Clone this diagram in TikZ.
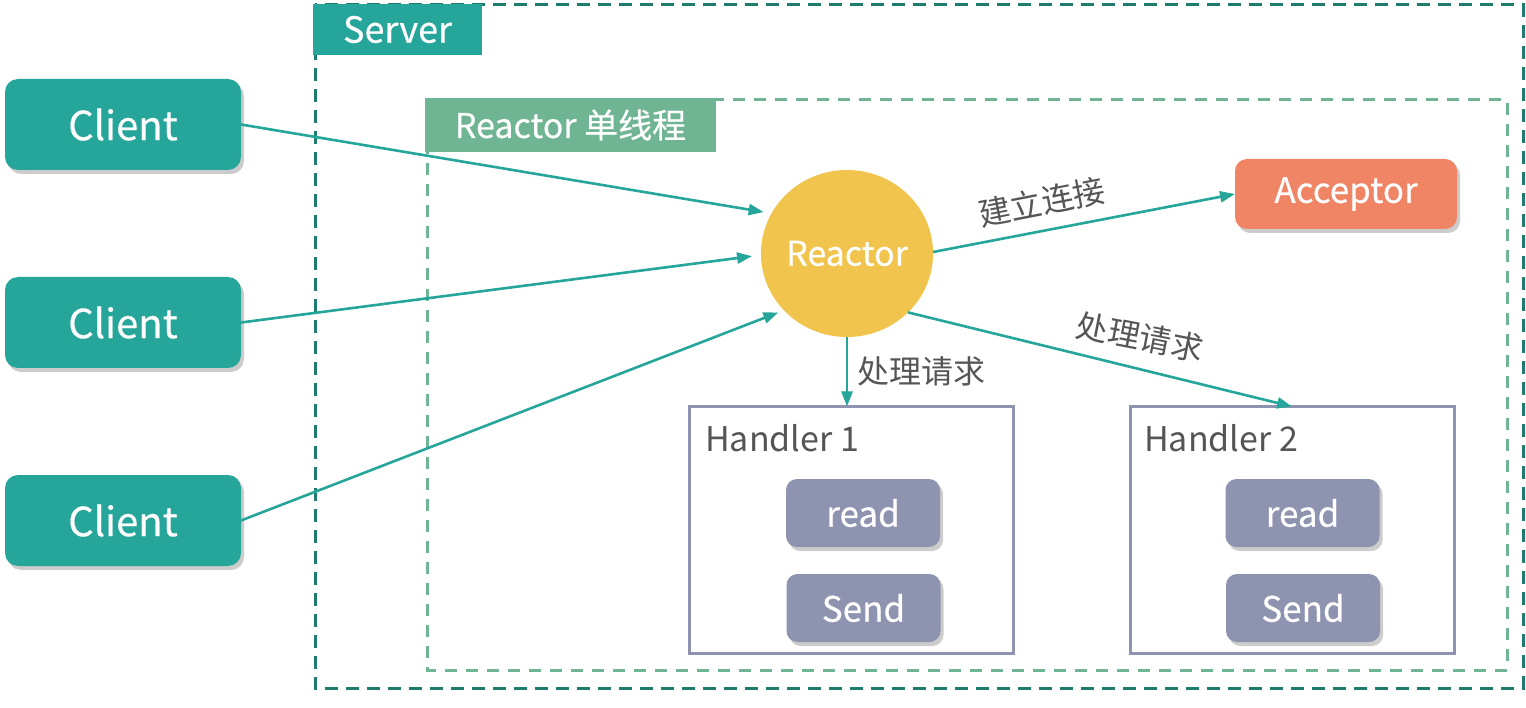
\documentclass[tikz,border=0pt]{standalone}
\usepackage{fontspec}
\setmainfont{Noto Sans CJK SC}
\newfontfamily\medfont[FakeBold=0.4]{Noto Sans CJK SC}
\usetikzlibrary{arrows.meta,shapes.geometric,shadows}
\definecolor{tealc}{HTML}{26A69A}
\definecolor{serverc}{HTML}{1E7B6E}
\definecolor{greenl}{HTML}{70B593}
\definecolor{yellowc}{HTML}{F1C44D}
\definecolor{orangec}{HTML}{F08566}
\definecolor{purplec}{HTML}{8E93B0}
\definecolor{textg}{HTML}{555555}
\newcommand{\fs}[1]{\fontsize{#1}{#1}\selectfont}
\tikzset{
  shadowed/.style={drop shadow={shadow xshift=3pt,shadow yshift=-4pt,opacity=0.2,fill=black}},
  clientbox/.style={rectangle,rounded corners=13pt,fill=tealc,text=white,minimum width=236pt,minimum height=91pt,inner sep=0pt,outer sep=0pt,font=\medfont\fs{40},shadowed},
  opbox/.style={rectangle,rounded corners=11pt,fill=purplec,text=white,minimum width=154pt,minimum height=68pt,inner sep=0pt,outer sep=0pt,font=\medfont\fs{35},shadowed},
  handlerbox/.style={rectangle,draw=purplec,line width=3pt,fill=white,minimum width=324pt,minimum height=247pt,inner sep=0pt,outer sep=0pt},
  tagbox/.style={rectangle,text=white,inner sep=0pt,outer sep=0pt},
  conn/.style={draw=tealc,line width=2.6pt,-{Triangle[length=15pt,width=11pt]}},
  lbl/.style={text=textg,font=\fs{32},inner sep=0pt},
}
\begin{document}
\begin{tikzpicture}[x=1pt,y=-1pt]
\useasboundingbox[fill=white] (0,0) rectangle (1526,708);
% frames
\draw[serverc,line width=3pt,dash pattern=on 13pt off 8pt] (315,5) rectangle (1523,688);
\draw[greenl,line width=3pt,dash pattern=on 12pt off 9pt] (427,100) rectangle (1507,670);
\node[tagbox,fill=tealc,minimum width=169pt,minimum height=51pt,font=\medfont\fs{36}] (server) at (397.5,29.5) {Server};
\node[tagbox,fill=greenl,minimum width=291pt,minimum height=54pt,font=\medfont\fs{34}] (group) at (570.5,125) {Reactor 单线程};
% clients
\node[clientbox] (c1) at (123,124.5) {Client};
\node[clientbox] (c2) at (123,322.5) {Client};
\node[clientbox] (c3) at (123,520.5) {Client};
% reactor
\node[ellipse,fill=yellowc,text=white,minimum width=170pt,minimum height=167pt,inner sep=0pt,outer sep=0pt,font=\medfont\fs{34}] (reactor) at (847,253.5) {Reactor};
\node[rectangle,rounded corners=12pt,fill=orangec,text=white,minimum width=222pt,minimum height=70pt,inner sep=0pt,outer sep=0pt,font=\medfont\fs{35},shadowed] (acc) at (1346,194) {Acceptor};
% handlers
\node[handlerbox] (h1) at (851.5,530) {};
\node[handlerbox] (h2) at (1292,530) {};
\node[text=textg,font=\fs{34},anchor=base west,inner sep=0pt] (h1t) at (705,451) {Handler 1};
\node[text=textg,font=\fs{34},anchor=base west,inner sep=0pt] (h2t) at (1144,451) {Handler 2};
\node[opbox] (r1) at (863,513) {read};
\node[opbox] (s1) at (863.5,608) {Send};
\node[opbox] (r2) at (1302.5,513) {read};
\node[opbox] (s2) at (1303,608) {Send};
% connectors
\draw[conn,shorten >=8pt] (c1.east) -- (reactor.152);
\draw[conn,shorten >=9pt] (c2.east) -- (reactor.181);
\draw[conn,shorten >=6pt] (c3.east) -- (reactor.222);
\draw[conn] (reactor.1) -- (acc.west);
\draw[conn] (reactor.south) -- (reactor.south |- h1.north);
\draw[conn] (reactor.-44) -- (h2.north);
% labels
\node[lbl,rotate=11] (l1) at (1042,202) {建立连接};
\node[lbl] (l2) at (921,371) {处理请求};
\node[lbl,rotate=-11] (l3) at (1140,337) {处理请求};
\end{tikzpicture}
\end{document}
